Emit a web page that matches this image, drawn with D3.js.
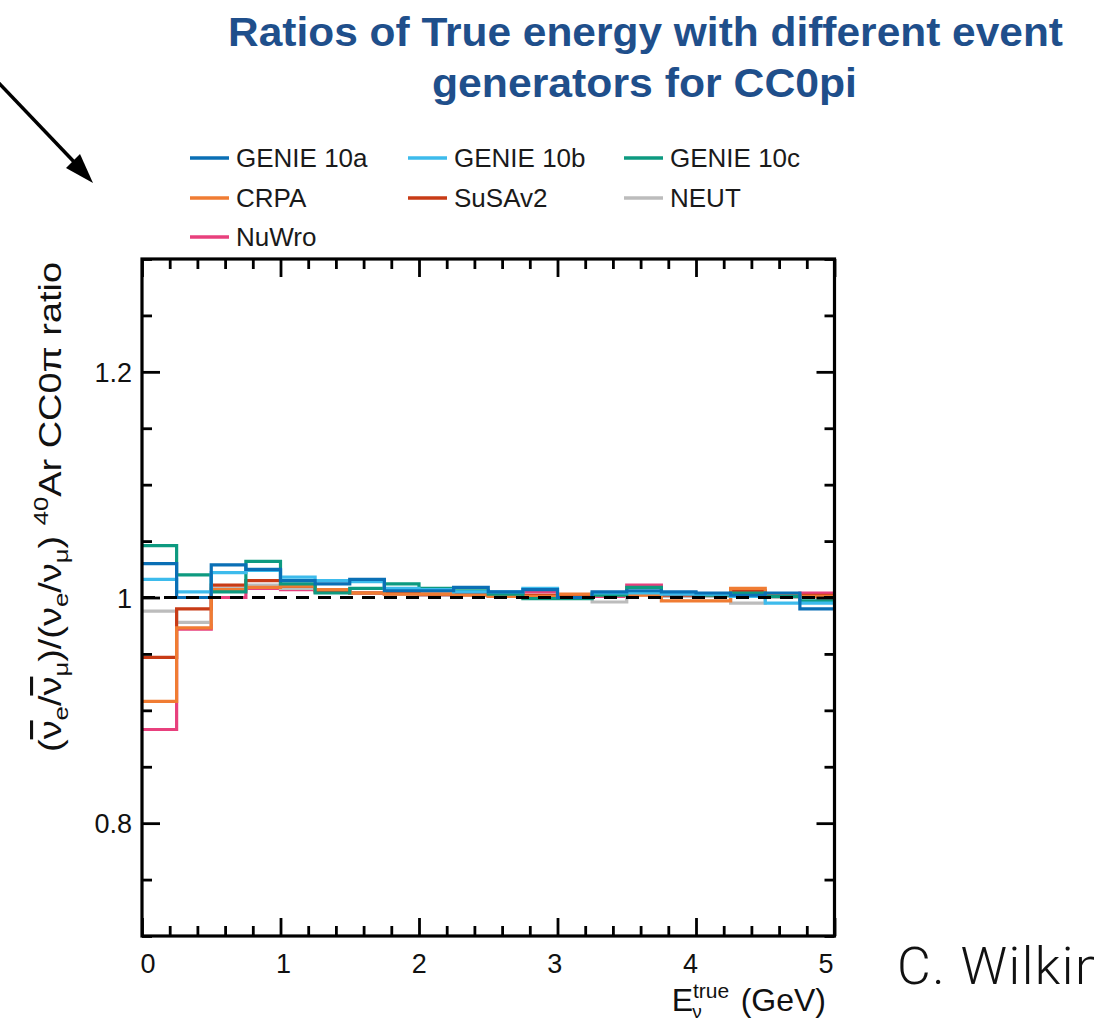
<!DOCTYPE html>
<html><head><meta charset="utf-8">
<script src="https://cdn.jsdelivr.net/npm/d3@7"></script>
<style>body{margin:0;background:#fff;overflow:hidden}svg{display:block}</style>
</head><body><svg id="c" width="1094" height="1023"></svg>
<script>
// ---------- data ----------
const binEdges = [0,0.25,0.5,0.75,1,1.25,1.5,1.75,2,2.25,2.5,2.75,3,3.25,3.5,3.75,4,4.25,4.5,4.75,5];
const seriesNames = ["GENIE 10a","GENIE 10b","GENIE 10c","CRPA","SuSAv2","NEUT","NuWro"];
const genie10a = [1.030,1.000,1.029,1.025,1.015,1.012,1.016,1.006,1.006,1.009,1.005,1.007,1.000,1.005,1.006,1.005,1.004,1.002,1.004,0.990];
const genie10b = [1.016,1.005,1.022,1.024,1.018,1.015,1.014,1.008,1.007,1.005,1.005,1.008,1.000,1.004,1.004,1.003,1.003,1.001,0.995,0.995];
const genie10c = [1.046,1.020,1.005,1.032,1.012,1.004,1.008,1.012,1.008,1.006,1.003,0.999,0.999,1.002,1.009,1.004,1.002,1.004,1.001,0.997];
const crpa     = [0.908,0.973,1.007,1.009,1.010,1.007,1.004,1.003,1.003,1.002,1.001,1.001,1.003,1.002,1.002,0.997,0.997,1.008,1.002,1.001];
const susav2   = [0.947,0.990,1.011,1.015,1.010,1.006,1.004,1.004,1.003,1.003,1.002,1.002,1.001,1.002,1.003,1.002,1.002,1.006,1.002,1.002];
const neut     = [0.988,0.978,1.008,1.011,1.008,1.005,1.004,1.003,1.002,1.002,1.001,1.001,1.000,0.996,1.002,1.001,1.001,0.995,1.000,1.000];
const nuwro    = [0.883,0.972,1.000,1.008,1.007,1.005,1.004,1.003,1.002,1.002,1.001,1.005,1.001,1.001,1.011,1.002,1.002,1.003,1.001,1.004];
const seriesValues = [genie10a,genie10b,genie10c,crpa,susav2,neut,nuwro];
const seriesColors = ["#0a6fb5","#3dbbec","#0d9a80","#f07c33","#c83b16","#bcbcbc","#e8407d"];
const xTickValues = [0,1,2,3,4,5];
const xTickLabels = ["0","1","2","3","4","5"];
const yTickValues = [0.8,1.0,1.2];
const yTickLabels = ["0.8","1","1.2"];
const titleLines = ["Ratios of True energy with different event","generators for CC0pi"];

// ---------- layout ----------
const svg = d3.select("#c");
const L=142, R=834.5, T=259, B=936;
const x = d3.scaleLinear().domain([0,5]).range([L,R]);
const y = d3.scaleLinear().domain([0.7,1.3]).range([B,T]);
const FONT = "'Liberation Sans', Arial, Helvetica, sans-serif";

// title
svg.append("text").attr("x",645.5).attr("y",46).attr("text-anchor","middle")
  .attr("font-family",FONT).attr("font-weight","bold").attr("font-size",41)
  .attr("fill","#1f4f8b").attr("textLength",835).attr("lengthAdjust","spacingAndGlyphs")
  .text(titleLines[0]);
svg.append("text").attr("x",644.5).attr("y",97).attr("text-anchor","middle")
  .attr("font-family",FONT).attr("font-weight","bold").attr("font-size",41)
  .attr("fill","#1f4f8b").attr("textLength",425).attr("lengthAdjust","spacingAndGlyphs")
  .text(titleLines[1]);

// arrow
svg.append("path").attr("d","M-4,80 L78,166").attr("stroke","#000").attr("stroke-width",3.5).attr("fill","none");
svg.append("path").attr("d","M93,183 L66,168 L80,154 Z").attr("fill","#000");

// legend
const legCols=[190,408,624], legRows=[158,198,237];
seriesNames.forEach((n,i)=>{
  const cx=legCols[i%3], cy=legRows[Math.floor(i/3)];
  svg.append("line").attr("x1",cx).attr("x2",cx+39).attr("y1",cy).attr("y2",cy)
    .attr("stroke",seriesColors[i]).attr("stroke-width",3.5);
  svg.append("text").attr("x",cx+46).attr("y",cy+9).attr("font-family",FONT)
    .attr("font-size",26).attr("fill","#1a1a1a").text(n);
});

// histograms
svg.append("clipPath").attr("id","clip").append("rect").attr("x",L).attr("y",T).attr("width",R-L).attr("height",B-T);
const line = d3.line().x(d=>x(d[0])).y(d=>y(d[1])).curve(d3.curveStepAfter);
const g = svg.append("g").attr("clip-path","url(#clip)");
for(let i=seriesNames.length-1;i>=0;i--){
  const vals=seriesValues[i];
  const pts=vals.map((v,j)=>[binEdges[j],v]).concat([[binEdges[binEdges.length-1],vals[vals.length-1]]]);
  g.append("path").attr("d",line(pts)).attr("fill","none")
    .attr("stroke",seriesColors[i]).attr("stroke-width",3.2);
}
// reference line
g.append("line").attr("x1",x(0)).attr("x2",x(5)).attr("y1",y(1)).attr("y2",y(1))
  .attr("stroke","#000").attr("stroke-width",3.2).attr("stroke-dasharray","13,9");

// ticks (inward, all four sides)
const xMinor = d3.range(0,5.0001,0.2).filter(v=>Math.abs(v-Math.round(v))>1e-6);
const yMinor = d3.range(0.7,1.3001,0.05).filter(v=>Math.abs(v*5-Math.round(v*5))>1e-6);
function ticks(axisFn, scale, vals, len, transform){
  svg.append("g").attr("transform",transform)
    .call(axisFn(scale).tickValues(vals).tickSize(len).tickFormat(""))
    .call(s=>{s.select(".domain").remove(); s.selectAll("line").attr("stroke","#000").attr("stroke-width",2.8);});
}
ticks(d3.axisTop, x, xTickValues, 18, `translate(0,${B})`);
ticks(d3.axisTop, x, xMinor, 10, `translate(0,${B})`);
ticks(d3.axisBottom, x, xTickValues, 18, `translate(0,${T})`);
ticks(d3.axisBottom, x, xMinor, 10, `translate(0,${T})`);
ticks(d3.axisRight, y, yTickValues, 18, `translate(${L},0)`);
ticks(d3.axisRight, y, yMinor, 10, `translate(${L},0)`);
ticks(d3.axisLeft, y, yTickValues, 18, `translate(${R},0)`);
ticks(d3.axisLeft, y, yMinor, 10, `translate(${R},0)`);

// frame
svg.append("rect").attr("x",L).attr("y",T).attr("width",R-L).attr("height",B-T)
  .attr("fill","none").attr("stroke","#000").attr("stroke-width",3.2);

// tick labels
xTickValues.forEach((v,i)=>{
  svg.append("text").attr("x",x(v)+6-2.9*v).attr("y",973).attr("text-anchor","middle")
    .attr("font-family",FONT).attr("font-size",27).attr("fill","#111").text(xTickLabels[i]);
});
yTickValues.forEach((v,i)=>{
  svg.append("text").attr("x",132).attr("y",y(v)+10).attr("text-anchor","end")
    .attr("font-family",FONT).attr("font-size",27).attr("fill","#111").text(yTickLabels[i]);
});

// x axis title
const xt = svg.append("text").attr("x",826).attr("y",1011).attr("text-anchor","end")
  .attr("font-family",FONT).attr("font-size",32).attr("fill","#111");
xt.append("tspan").text("E");
xt.append("tspan").attr("font-size",21).attr("dy",-13).text("true");
xt.append("tspan").attr("font-size",19).attr("dx",-37).attr("dy",20).text("ν");
xt.append("tspan").attr("dx",39).attr("dy",-7).text("(GeV)");

// y axis title
const yt = svg.append("text").attr("transform","translate(61,262) rotate(-90)").attr("text-anchor","end")
  .attr("font-family",FONT).attr("font-size",31).attr("fill","#111")
  .attr("textLength",490).attr("lengthAdjust","spacingAndGlyphs");
const parts = [
  {t:"("},{t:"ν",o:1},{t:"e",s:1},{t:"/"},{t:"ν",o:1},{t:"μ",s:1},{t:")/(ν"},{t:"e",s:1},{t:"/ν"},{t:"μ",s:1},{t:")  "},
  {t:"40",p:1},{t:"Ar CC0π ratio"}
];
let shift=0;
parts.forEach(p=>{
  const ts=yt.append("tspan").text(p.t);
  let target = p.s?7:(p.p?-13:0);
  ts.attr("dy",target-shift); shift=target;
  if(p.s||p.p) ts.attr("font-size",21);
  if(p.o) ts.attr("text-decoration","overline");
});

// author (cut off at the right edge, as in the reference)
svg.append("text").attr("x",897).attr("y",984).attr("font-family","Roboto, 'Liberation Sans', sans-serif")
  .attr("font-weight",300).attr("font-size",52).attr("letter-spacing",1.5).attr("fill","#111").text("C. Wilkinson");
</script>
</body></html>
